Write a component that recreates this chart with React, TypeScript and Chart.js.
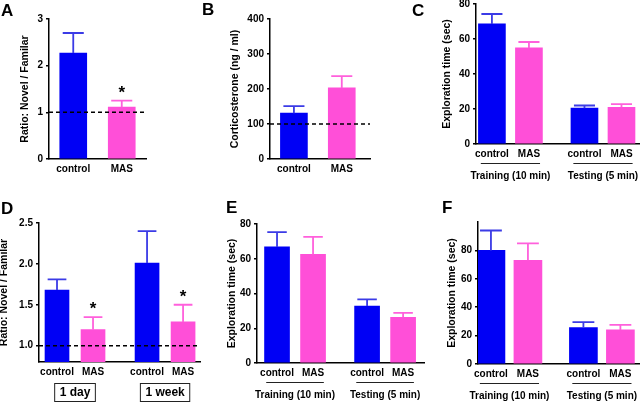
import React, { useEffect, useRef } from 'react';
import { Chart, registerables } from 'chart.js';

Chart.register(...registerables);

const FONT = "'Liberation Sans', Arial, Helvetica, sans-serif";
Chart.defaults.font.family = FONT;
Chart.defaults.color = '#000';

// ---------- data ----------
const pairGroups = ['control', 'MAS'];
const quadGroups = ['control', 'MAS', 'control', 'MAS'];
const sessionLabels = ['Training (10 min)', 'Testing (5 min)'];
const delayLabels = ['1 day', '1 week'];

const aRatio = [2.27, 1.11];
const aSem = [0.43, 0.14];
const aSig = [false, true];
const aTicks = [0, 1, 2, 3];

const bCort = [131, 203];
const bSem = [20, 34];
const bTicks = [0, 100, 200, 300, 400];

const cTime = [68.6, 54.9, 20.5, 21.0];
const cSem = [5.7, 3.4, 1.5, 1.8];
const cTicks = [0, 20, 40, 60, 80];

const dRatio = [1.68, 1.195, 2.01, 1.29];
const dSem = [0.13, 0.155, 0.39, 0.21];
const dSig = [false, true, false, true];
const dTicks = [1.0, 1.5, 2.0, 2.5];

const eTime = [66.8, 62.5, 32.8, 26.3];
const eSem = [8.5, 10.1, 3.8, 2.6];
const eTicks = [0, 20, 40, 60, 80];

const fTime = [80, 73, 25.7, 24];
const fSem = [14, 12, 3.8, 3.6];
const fTicks = [0, 20, 40, 60, 80];

// ---------- styles ----------
const BLUE = '#0000f5';
const PINK = '#ff4fd8';
const BLUE_ERR = '#3b3be6';
const PINK_ERR = '#ff60dc';

type Panel = {
  letter: string;
  letterX: number;
  letterY: number;
  canvas: { x: number; y: number; w: number; h: number };
  area: { l: number; t: number; r: number; b: number };
  groups: string[];
  values: number[];
  sem: number[];
  sig?: boolean[];
  yMin: number;
  yMax: number;
  yTicks: number[];
  yDecimals: number;
  yTitle: string;
  titleX: number;
  xMin: number;
  xMax: number;
  barW: number;
  ref?: number;
  under?: { kind: 'line' | 'box'; labels: string[] };
};

const panels: Panel[] = [
  {
    letter: 'A', letterX: 1, letterY: 2,
    canvas: { x: 0, y: 0, w: 200, h: 190 },
    area: { l: 49, t: 19, r: 146, b: 159 },
    groups: pairGroups, values: aRatio, sem: aSem, sig: aSig,
    yMin: 0, yMax: 3, yTicks: aTicks, yDecimals: 0,
    yTitle: 'Ratio: Novel / Familar', titleX: 25,
    xMin: -0.5, xMax: 1.5, barW: 27, ref: 1,
  },
  {
    letter: 'B', letterX: 202, letterY: 1,
    canvas: { x: 200, y: 0, w: 210, h: 190 },
    area: { l: 270, t: 19, r: 370, b: 159 },
    groups: pairGroups, values: bCort, sem: bSem,
    yMin: 0, yMax: 400, yTicks: bTicks, yDecimals: 0,
    yTitle: 'Corticosterone (ng / ml)', titleX: 235,
    xMin: -0.5, xMax: 1.59, barW: 27, ref: 100,
  },
  {
    letter: 'C', letterX: 412, letterY: 2,
    canvas: { x: 410, y: 0, w: 230, h: 190 },
    area: { l: 476, t: 4, r: 640, b: 144 },
    groups: quadGroups, values: cTime, sem: cSem,
    yMin: 0, yMax: 80, yTicks: cTicks, yDecimals: 0,
    yTitle: 'Exploration time (sec)', titleX: 447,
    xMin: -0.43, xMax: 4.0, barW: 27,
    under: { kind: 'line', labels: sessionLabels },
  },
  {
    letter: 'D', letterX: 1, letterY: 200,
    canvas: { x: -8, y: 190, w: 213, h: 212 },
    area: { l: 39, t: 223, r: 200, b: 362 },
    groups: quadGroups, values: dRatio, sem: dSem, sig: dSig,
    yMin: 0.8, yMax: 2.5, yTicks: dTicks, yDecimals: 1,
    yTitle: 'Ratio: Novel / Familar', titleX: 4,
    xMin: -0.5, xMax: 3.97, barW: 24, ref: 1,
    under: { kind: 'box', labels: delayLabels },
  },
  {
    letter: 'E', letterX: 226, letterY: 199,
    canvas: { x: 205, y: 190, w: 225, h: 212 },
    area: { l: 257, t: 224, r: 424, b: 363 },
    groups: quadGroups, values: eTime, sem: eSem,
    yMin: 0, yMax: 80, yTicks: eTicks, yDecimals: 0,
    yTitle: 'Exploration time (sec)', titleX: 232,
    xMin: -0.556, xMax: 4.08, barW: 25,
    under: { kind: 'line', labels: sessionLabels },
  },
  {
    letter: 'F', letterX: 442, letterY: 199,
    canvas: { x: 430, y: 190, w: 210, h: 212 },
    area: { l: 478, t: 222, r: 640, b: 364 },
    groups: quadGroups, values: fTime, sem: fSem,
    yMin: 0, yMax: 100, yTicks: fTicks, yDecimals: 0,
    yTitle: 'Exploration time (sec)', titleX: 452,
    xMin: -0.35, xMax: 4.03, barW: 28,
    under: { kind: 'line', labels: sessionLabels },
  },
];

function barPosition(i: number, n: number) {
  return n > 2 ? Math.floor(i / 2) * 2.5 + (i % 2) : i;
}

function buildChart(canvas: HTMLCanvasElement, p: Panel) {
  const n = p.values.length;
  const positions = p.values.map((_, i) => barPosition(i, n));
  const colors = p.groups.map((g) => (g === 'control' ? BLUE : PINK));
  const errColors = p.groups.map((g) => (g === 'control' ? BLUE_ERR : PINK_ERR));
  const yW = p.area.l - p.canvas.x;
  const xH = p.canvas.y + p.canvas.h - p.area.b;
  const padTop = p.area.t - p.canvas.y;
  const padRight = p.canvas.x + p.canvas.w - p.area.r;
  const titlePad = p.titleX - p.canvas.x - 6.3;

  const extras = {
    id: 'extras',
    afterDatasetsDraw(chart: any) {
      const ctx = chart.ctx as CanvasRenderingContext2D;
      const ys = chart.scales.y;
      const xs = chart.scales.x;
      const ca = chart.chartArea;
      const meta = chart.getDatasetMeta(0);

      // error bars + significance stars
      meta.data.forEach((el: any, i: number) => {
        const top = ys.getPixelForValue(p.values[i] + p.sem[i]);
        const x = el.x;
        const cap = p.barW * 0.78;
        ctx.save();
        ctx.strokeStyle = errColors[i];
        ctx.lineWidth = 1.8;
        ctx.beginPath();
        ctx.moveTo(x, el.y);
        ctx.lineTo(x, top);
        ctx.moveTo(x - cap / 2, top);
        ctx.lineTo(x + cap / 2, top);
        ctx.stroke();
        if (p.sig && p.sig[i]) {
          ctx.fillStyle = '#000';
          ctx.font = `bold 17px ${FONT}`;
          ctx.textAlign = 'center';
          ctx.textBaseline = 'alphabetic';
          ctx.fillText('*', x, top - 13 + 10);
        }
        ctx.restore();
      });

      // dashed reference line
      if (p.ref !== undefined) {
        const y = ys.getPixelForValue(p.ref);
        ctx.save();
        ctx.strokeStyle = '#000';
        ctx.lineWidth = 1.5;
        ctx.setLineDash([4, 3]);
        ctx.beginPath();
        ctx.moveTo(ca.left, y);
        ctx.lineTo(ca.right, y);
        ctx.stroke();
        ctx.restore();
      }

      // group annotations under the axis
      if (p.under) {
        p.under.labels.forEach((lab, g) => {
          const c0 = g * 2.5;
          ctx.save();
          ctx.fillStyle = '#000';
          ctx.strokeStyle = '#222';
          if (p.under!.kind === 'line') {
            const x0 = xs.getPixelForValue(c0 - 0.3);
            const x1 = xs.getPixelForValue(c0 + 1.3);
            const ly = ca.bottom + 19.5;
            ctx.lineWidth = 1;
            ctx.beginPath();
            ctx.moveTo(x0, ly);
            ctx.lineTo(x1, ly);
            ctx.stroke();
            ctx.font = `bold 10px ${FONT}`;
            ctx.textAlign = 'center';
            ctx.textBaseline = 'middle';
            ctx.fillText(lab, (x0 + x1) / 2, ca.bottom + 32);
          } else {
            ctx.font = `bold 12px ${FONT}`;
            const cx = xs.getPixelForValue(c0 + 0.5);
            const w = ctx.measureText(lab).width + 10;
            const top = ca.bottom + 21.5;
            ctx.lineWidth = 1;
            ctx.strokeRect(cx - w / 2, top, w, 18);
            ctx.textAlign = 'center';
            ctx.textBaseline = 'middle';
            ctx.fillText(lab, cx, top + 9.5);
          }
          ctx.restore();
        });
      }
    },
  };

  return new Chart(canvas, {
    type: 'bar',
    data: {
      datasets: [
        {
          data: p.values.map((v, i) => ({ x: positions[i], y: v })),
          backgroundColor: colors,
          borderWidth: 0,
          barThickness: p.barW,
        } as any,
      ],
    },
    options: {
      animation: false,
      responsive: false,
      maintainAspectRatio: false,
      devicePixelRatio: 1,
      layout: { padding: { left: 0, top: padTop, right: padRight, bottom: 0 } },
      plugins: { legend: { display: false }, tooltip: { enabled: false } },
      scales: {
        x: {
          type: 'linear',
          min: p.xMin,
          max: p.xMax,
          offset: false,
          grid: { display: false, drawTicks: false },
          border: { display: true, color: '#000', width: 1.5 },
          ticks: {
            autoSkip: false,
            maxRotation: 0,
            padding: 4,
            font: { size: 10, weight: 'bold' },
            color: '#000',
            callback: (_v: any, idx: number) => p.groups[idx],
          },
          afterBuildTicks: (s: any) => {
            s.ticks = positions.map((v) => ({ value: v }));
          },
          afterFit: (s: any) => {
            s.height = xH;
            s.paddingLeft = 0;
            s.paddingRight = 0;
            s.paddingTop = 0;
            s.paddingBottom = 0;
          },
        } as any,
        y: {
          type: 'linear',
          min: p.yMin,
          max: p.yMax,
          grid: {
            display: true,
            drawOnChartArea: false,
            drawTicks: true,
            tickLength: 3,
            color: '#000',
            lineWidth: 1.5,
          },
          border: { display: true, color: '#000', width: 1.5 },
          ticks: {
            padding: 3,
            font: { size: 10, weight: 'bold' },
            color: '#000',
            callback: (v: any) => Number(v).toFixed(p.yDecimals),
          },
          title: {
            display: true,
            text: p.yTitle,
            color: '#000',
            font: { size: 10.5, weight: 'bold' },
            padding: { top: titlePad, bottom: 0 },
          },
          afterBuildTicks: (s: any) => {
            s.ticks = p.yTicks.map((v) => ({ value: v }));
          },
          afterFit: (s: any) => {
            s.width = yW;
            s.paddingLeft = 0;
            s.paddingRight = 0;
            s.paddingTop = 0;
            s.paddingBottom = 0;
          },
        } as any,
      },
    },
    plugins: [extras],
  } as any);
}

function PanelChart({ p }: { p: Panel }) {
  const ref = useRef<HTMLCanvasElement | null>(null);
  useEffect(() => {
    if (!ref.current) return;
    const chart = buildChart(ref.current, p);
    return () => chart.destroy();
  }, [p]);
  return (
    <>
      <canvas
        ref={ref}
        width={p.canvas.w}
        height={p.canvas.h}
        style={{
          position: 'absolute',
          left: p.canvas.x,
          top: p.canvas.y,
          width: p.canvas.w,
          height: p.canvas.h,
        }}
      />
      <div
        style={{
          position: 'absolute',
          left: p.letterX,
          top: p.letterY,
          font: `bold 17px ${FONT}`,
          lineHeight: '17px',
          color: '#000',
        }}
      >
        {p.letter}
      </div>
    </>
  );
}

export default function App() {
  return (
    <div
      style={{
        position: 'absolute',
        left: 0,
        top: 0,
        width: 640,
        height: 402,
        overflow: 'hidden',
        background: '#fff',
      }}
    >
      {panels.map((p) => (
        <PanelChart key={p.letter} p={p} />
      ))}
    </div>
  );
}
